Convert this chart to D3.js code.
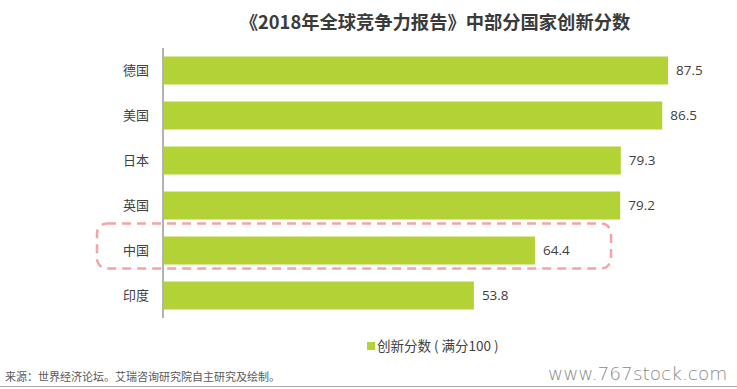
<!DOCTYPE html>
<html><head><meta charset="utf-8">
<script src="https://cdn.jsdelivr.net/npm/d3@7/dist/d3.min.js"></script>
<style>body{margin:0;background:#fff;}svg{display:block;}</style>
</head><body>
<script>
const categories = ["德国","美国","日本","英国","中国","印度"];
const values = [87.5, 86.5, 79.3, 79.2, 64.4, 53.8];
const valueLabels = ["87.5","86.5","79.3","79.2","64.4","53.8"];
const titleText = "《2018年全球竞争力报告》中部分国家创新分数";
const legendText = "创新分数 ( 满分100 )";
const sourceText = "来源：世界经济论坛。艾瑞咨询研究院自主研究及绘制。";
const watermark = "www.767stock.com";
const highlight = "中国";

const W = 737, H = 389;
const font = "'Noto Sans CJK SC','Noto Sans',sans-serif";
const svg = d3.select("body").append("svg").attr("width", W).attr("height", H);

const x = d3.scaleLinear().domain([0, 100]).range([164, 740]);
const y = d3.scaleBand().domain(categories).range([48, 318]).paddingInner(0.378).paddingOuter(0.189);

svg.append("text").attr("x", 435).attr("y", 29).attr("text-anchor", "middle")
  .attr("font-family", font).attr("font-weight", "bold").attr("font-size", 18.3)
  .attr("fill", "#3a3a3a").text(titleText);

const data = categories.map((c, i) => ({c, v: values[i], l: valueLabels[i]}));

svg.selectAll("rect.bar").data(data).join("rect").attr("class", "bar")
  .attr("x", x(0)).attr("y", d => y(d.c)).attr("width", d => x(d.v) - x(0))
  .attr("height", y.bandwidth()).attr("fill", "#b2d235");

svg.selectAll("text.val").data(data).join("text").attr("class", "val")
  .attr("x", d => x(d.v) + 8).attr("y", d => y(d.c) + y.bandwidth() / 2)
  .attr("dy", "0.35em").attr("font-family", "'Open Sans','Noto Sans',sans-serif").attr("font-size", 13.5)
  .attr("fill", "#404040").text(d => d.l);

const yAxis = svg.append("g").attr("transform", `translate(${x(0) - 1},0)`)
  .call(d3.axisLeft(y).tickSize(0).tickPadding(14));
yAxis.select(".domain").attr("stroke", "#666").attr("d", "M0,48V318");
yAxis.selectAll("text").attr("font-family", font).attr("font-size", 13).attr("fill", "#404040");

// highlight box
const hy = y(highlight);
svg.append("rect").attr("x", 97).attr("y", hy - 13).attr("width", 514)
  .attr("height", y.bandwidth() + 17).attr("rx", 10).attr("ry", 10)
  .attr("fill", "none").attr("stroke", "#f4a3a6").attr("stroke-width", 2.5)
  .attr("stroke-dasharray", "9,6");

// legend
svg.append("rect").attr("x", 367).attr("y", 342).attr("width", 8).attr("height", 8).attr("fill", "#b2d235");
svg.append("text").attr("x", 377).attr("y", 351).attr("font-family", font).attr("font-size", 13.5)
  .attr("fill", "#404040").text(legendText);

svg.append("text").attr("x", 5).attr("y", 381).attr("font-family", font).attr("font-size", 11)
  .attr("fill", "#595959").text(sourceText);
svg.append("text").attr("x", 548).attr("y", 380).attr("font-family", "'DejaVu Sans',sans-serif").attr("font-size", 18.5)
  .attr("fill", "#8a8a8a").attr("font-weight", 300).text(watermark);
svg.append("line").attr("x1", 0).attr("x2", W).attr("y1", 386.5).attr("y2", 386.5)
  .attr("stroke", "#aaa").attr("stroke-width", 1);
</script>
</body></html>
